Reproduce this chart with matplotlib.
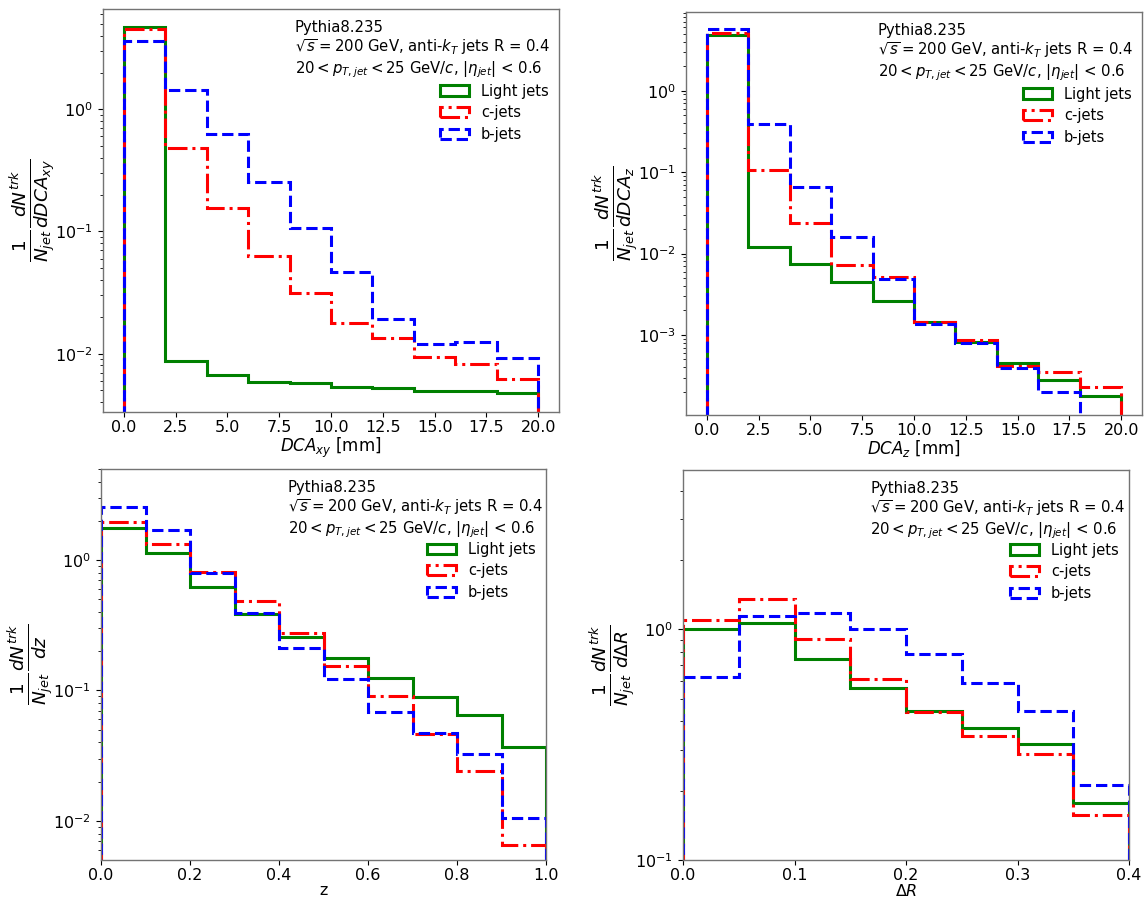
import numpy as np
import matplotlib
matplotlib.use("Agg")
import matplotlib.pyplot as plt

# ---------------- data ----------------
dca_edges = [0, 2, 4, 6, 8, 10, 12, 14, 16, 18, 20]
z_edges = [0.0, 0.1, 0.2, 0.3, 0.4, 0.5, 0.6, 0.7, 0.8, 0.9, 1.0]
dr_edges = [0.0, 0.05, 0.10, 0.15, 0.20, 0.25, 0.30, 0.35, 0.40]

labels = ["Light jets", "c-jets", "b-jets"]

dcaxy_light = [4.74, 0.00865, 0.00673, 0.00583, 0.00580, 0.00537, 0.00525, 0.00499, 0.00499, 0.00474]
dcaxy_c = [4.56, 0.486, 0.157, 0.0632, 0.0313, 0.0178, 0.0134, 0.00933, 0.00824, 0.0062]
dcaxy_b = [3.62, 1.44, 0.625, 0.255, 0.106, 0.0468, 0.0192, 0.0120, 0.0124, 0.00922]

dcaz_light = [4.82, 0.0122, 0.0074, 0.00453, 0.00262, 0.00146, 0.00081, 0.000451, 0.000276, 0.000176]
dcaz_c = [5.15, 0.106, 0.024, 0.00726, 0.00513, 0.00144, 0.000857, 0.00041, 0.000347, 0.000229]
dcaz_b = [5.66, 0.386, 0.0664, 0.0159, 0.00484, 0.00137, 0.000794, 0.000392, 0.000197, 0.0]

z_light = [1.77, 1.137, 0.627, 0.389, 0.259, 0.176, 0.124, 0.089, 0.0646, 0.0371]
z_c = [1.95, 1.34, 0.815, 0.483, 0.274, 0.155, 0.0906, 0.046, 0.0243, 0.00653]
z_b = [2.54, 1.69, 0.80, 0.394, 0.211, 0.123, 0.0685, 0.0469, 0.0325, 0.0106]

dr_light = [1.007, 1.061, 0.743, 0.558, 0.444, 0.372, 0.318, 0.176]
dr_c = [1.093, 1.355, 0.906, 0.61, 0.438, 0.346, 0.287, 0.157]
dr_b = [0.624, 1.148, 1.179, 1.0, 0.781, 0.586, 0.443, 0.212]

annot = ("Pythia8.235\n"
         r"$\sqrt{s}=200$ GeV, anti-$k_{T}$ jets R = 0.4" "\n"
         r"$20 < p_{T,jet} < 25$ GeV/$c$, $|\eta_{jet}|$ < 0.6")

colors = ["green", "red", "blue"]
styles = ["-", "-.", "--"]

W, H = 1146, 902
fig = plt.figure(figsize=(W / 100, H / 100), dpi=100)


def add_ax(x0, y0, x1, y1):
    return fig.add_axes([x0 / W, 1 - y1 / H, (x1 - x0) / W, (y1 - y0) / H])


panels = [
    dict(box=(103, 9, 559, 412), edges=dca_edges, data=[dcaxy_light, dcaxy_c, dcaxy_b],
         xlim=(-1, 21), ylim=(0.00333, 6.62), xlabel=r"$DCA_{xy}$ [mm]",
         ylabel=r"$\frac{1}{N_{jet}}\frac{dN^{trk}}{dDCA_{xy}}$", xticks=None, xlsize=12),
    dict(box=(686, 12, 1142, 415), edges=dca_edges, data=[dcaz_light, dcaz_c, dcaz_b],
         xlim=(-1, 21), ylim=(1.04e-4, 9.27), xlabel=r"$DCA_{z}$ [mm]",
         ylabel=r"$\frac{1}{N_{jet}}\frac{dN^{trk}}{dDCA_{z}}$", xticks=None, xlsize=12),
    dict(box=(101, 469, 546, 860), edges=z_edges, data=[z_light, z_c, z_b],
         xlim=(0, 1), ylim=(0.00501, 5.0), xlabel="z",
         ylabel=r"$\frac{1}{N_{jet}}\frac{dN^{trk}}{dz}$", xticks=None, xlsize=11.5),
    dict(box=(683, 470, 1129, 860), edges=dr_edges, data=[dr_light, dr_c, dr_b],
         xlim=(0, 0.4), ylim=(0.1, 4.91), xlabel=r"$\Delta R$",
         ylabel=r"$\frac{1}{N_{jet}}\frac{dN^{trk}}{d\Delta R}$", xticks=[0.0, 0.1, 0.2, 0.3, 0.4],
         xlsize=11.5),
]

for p in panels:
    ax = add_ax(*p["box"])
    edges = np.array(p["edges"], dtype=float)
    centers = 0.5 * (edges[:-1] + edges[1:])
    for vals, c, ls, lab in zip(p["data"], colors, styles, labels):
        ax.hist(centers, bins=edges, weights=vals, histtype="step", color=c,
                linestyle=ls, linewidth=2.2, label=lab)
    ax.set_yscale("log")
    ax.set_xlim(*p["xlim"])
    ax.set_ylim(*p["ylim"])
    if p["xticks"] is not None:
        ax.set_xticks(p["xticks"])
    ax.tick_params(labelsize=11.5)
    ax.tick_params(axis="x", pad=2.5)
    ax.set_xlabel(p["xlabel"], fontsize=p["xlsize"], labelpad=0)
    ax.set_ylabel(p["ylabel"], fontsize=19, labelpad=-2)
    for s in ax.spines.values():
        s.set_color("0.45")
        s.set_linewidth(1.0)
    ax.text(0.42, 0.972, annot, transform=ax.transAxes, va="top", ha="left",
            fontsize=10.7, linespacing=1.15)
    ax.legend(loc="upper right", bbox_to_anchor=(1.0, 0.84), frameon=False,
              fontsize=10.5, handlelength=2.0, labelspacing=0.45, borderaxespad=0.3)

fig.savefig("out.png", dpi=100)
